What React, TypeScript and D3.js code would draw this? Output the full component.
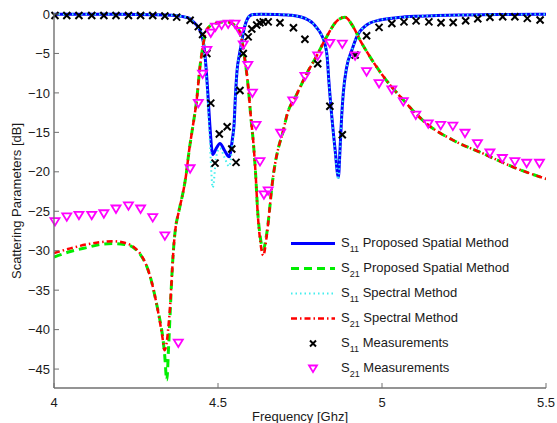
import React from "react";
import * as d3 from "d3";

// ---------- data ----------
const s11PropF = [4.0, 4.1, 4.2, 4.3, 4.36, 4.39, 4.41, 4.425, 4.44, 4.45, 4.457, 4.463, 4.469, 4.475, 4.484, 4.495, 4.506, 4.52, 4.534, 4.544, 4.549, 4.553, 4.558, 4.565, 4.572, 4.58, 4.59, 4.603, 4.63, 4.68, 4.72, 4.75, 4.775, 4.79, 4.80, 4.815, 4.826, 4.833, 4.838, 4.847, 4.857, 4.867, 4.872, 4.877, 4.882, 4.892, 4.908, 4.923, 4.953, 4.994, 5.05, 5.1, 5.167, 5.25, 5.35, 5.5];
const s11PropDb = [-0.02, -0.03, -0.04, -0.08, -0.15, -0.3, -0.5, -1.0, -1.7, -2.6, -4.0, -6.5, -10, -14, -17.8, -17.0, -16.4, -17.3, -18.1, -15.8, -14, -10.5, -7.2, -5.2, -3.6, -1.8, -0.6, -0.1, -0.02, -0.05, -0.15, -0.35, -0.75, -1.2, -1.7, -2.6, -3.8, -5.5, -8.5, -13, -17.2, -20.7, -17.2, -13, -10, -6.8, -4.6, -2.9, -1.4, -0.76, -0.45, -0.3, -0.2, -0.12, -0.07, -0.04];
const s11SpecDb = [-0.02, -0.03, -0.04, -0.08, -0.15, -0.3, -0.5, -1.0, -1.7, -2.6, -4.0, -6.8, -11, -16, -22.0, -18.0, -17.0, -18.2, -19.3, -16.5, -14, -10.5, -7.2, -5.2, -3.6, -1.8, -0.6, -0.1, -0.02, -0.05, -0.15, -0.35, -0.75, -1.2, -1.7, -2.6, -3.8, -5.5, -8.5, -13, -17.5, -21.0, -17.4, -13, -10, -6.8, -4.6, -2.9, -1.4, -0.76, -0.45, -0.3, -0.2, -0.12, -0.07, -0.04];

const s21PropF = [4.0, 4.05, 4.1, 4.143, 4.18, 4.215, 4.242, 4.265, 4.283, 4.298, 4.311, 4.322, 4.33, 4.337, 4.344, 4.349, 4.354, 4.359, 4.364, 4.371, 4.378, 4.386, 4.394, 4.402, 4.412, 4.423, 4.435, 4.445, 4.452, 4.462, 4.476, 4.5, 4.527, 4.55, 4.567, 4.582, 4.592, 4.6, 4.608, 4.615, 4.621, 4.628, 4.638, 4.648, 4.656, 4.664, 4.674, 4.684, 4.699, 4.709, 4.74, 4.77, 4.801, 4.831, 4.862, 4.887, 4.912, 4.933, 4.963, 5.004, 5.065, 5.136, 5.217, 5.309, 5.4, 5.5];
const s21PropDb = [-30.8, -30.1, -29.6, -29.2, -29.1, -29.2, -29.6, -30.6, -32.0, -34.0, -36.4, -38.6, -40.5, -43.0, -46.4, -42.5, -38.0, -33.5, -30.0, -27.0, -25.5, -24.0, -22.5, -20.6, -17.3, -14.3, -10.9, -6.7, -4.6, -2.4, -1.5, -1.1, -1.0, -1.4, -2.4, -5.8, -9.2, -13, -16.4, -20.5, -25, -28, -29.8, -28, -25.3, -22, -19, -17, -14.8, -13, -10.2, -7.6, -5.3, -2.9, -0.9, -0.4, -1.6, -3.3, -5.4, -7.9, -10.9, -13.9, -16.0, -17.7, -19.4, -20.9];
const s21SpecDb = [-30.3, -29.7, -29.2, -28.9, -28.8, -29.0, -29.5, -30.5, -32.0, -34.0, -36.4, -38.8, -40.8, -42.6, -41.5, -39.5, -37.0, -33.5, -30.0, -27.0, -25.5, -24.0, -22.5, -20.6, -17.3, -14.3, -10.9, -6.7, -4.6, -2.4, -1.5, -1.1, -1.0, -1.4, -2.4, -5.8, -9.2, -13, -16.4, -20.5, -25.2, -28.5, -30.6, -28.3, -25.3, -22, -19, -17, -14.8, -13, -10.2, -7.6, -5.3, -2.9, -0.9, -0.4, -1.6, -3.3, -5.4, -7.9, -10.9, -13.9, -16.0, -17.7, -19.4, -20.9];

const s11MeasF = [4.003, 4.039, 4.076, 4.115, 4.152, 4.189, 4.227, 4.264, 4.301, 4.338, 4.374, 4.415, 4.44, 4.453, 4.466, 4.478, 4.491, 4.504, 4.528, 4.542, 4.555, 4.567, 4.577, 4.592, 4.603, 4.618, 4.628, 4.638, 4.653, 4.689, 4.73, 4.765, 4.804, 4.841, 4.879, 4.918, 4.953, 4.991, 5.03, 5.067, 5.104, 5.143, 5.18, 5.217, 5.255, 5.292, 5.329, 5.368, 5.405, 5.443, 5.482];
const s11MeasDb = [-0.2, -0.2, -0.2, -0.2, -0.2, -0.2, -0.2, -0.2, -0.2, -0.25, -0.4, -0.8, -1.6, -2.6, -5.0, -11.3, -18.9, -15.2, -14.3, -17.1, -18.8, -9.7, -5.0, -2.9, -1.9, -1.4, -1.1, -1.0, -1.0, -1.1, -1.75, -3.2, -6.3, -11.7, -15.3, -5.2, -2.75, -1.7, -1.2, -1.0, -0.87, -1.0, -1.1, -1.08, -0.85, -0.6, -0.42, -0.34, -0.34, -0.55, -0.76];

const s21MeasF = [4.003, 4.039, 4.076, 4.115, 4.152, 4.189, 4.227, 4.264, 4.301, 4.338, 4.379, 4.415, 4.44, 4.453, 4.466, 4.478, 4.492, 4.511, 4.531, 4.552, 4.567, 4.577, 4.591, 4.605, 4.616, 4.628, 4.64, 4.653, 4.691, 4.728, 4.765, 4.804, 4.841, 4.879, 4.918, 4.953, 4.991, 5.03, 5.065, 5.103, 5.141, 5.179, 5.216, 5.253, 5.291, 5.329, 5.367, 5.405, 5.441, 5.48];
const s21MeasDb = [-26.3, -25.7, -25.5, -25.5, -25.3, -24.7, -24.3, -24.7, -25.8, -28.1, -41.7, -19.6, -11.3, -7.6, -4.6, -2.4, -1.65, -1.4, -1.27, -1.27, -2.2, -3.9, -6.5, -10, -14.1, -18.7, -22.9, -22.4, -15.1, -11, -7.9, -5.3, -3.7, -3.8, -5.3, -7.3, -8.8, -9.6, -11.1, -12.8, -13.9, -14.1, -14.2, -15.1, -16.4, -17.6, -18.3, -18.7, -18.9, -18.9];

const xTicks = [4, 4.5, 5, 5.5];
const xTickLabels = ["4", "4.5", "5", "5.5"];
const yTicks = [0, -5, -10, -15, -20, -25, -30, -35, -40, -45];

const legendSub = ["11", "21", "11", "21", "11", "21"];
const legendText = ["Proposed Spatial Method", "Proposed Spatial Method", "Spectral Method", "Spectral Method", "Measurements", "Measurements"];

// ---------- layout ----------
const W = 557, H = 423;
const L = 54, R = 546, T = 14, B = 388;
const FONT = "'Liberation Sans', Arial, Helvetica, sans-serif";

const x = d3.scaleLinear().domain([4, 5.5]).range([L, R]);
const y = d3.scaleLinear().domain([-47.4, 0]).range([B, T]);

const zipPts = (f: number[], v: number[]) => f.map((d, i) => [d, v[i]] as [number, number]);
const line = d3.line<[number, number]>().x(d => x(d[0])).y(d => y(d[1])).curve(d3.curveMonotoneX);

const styles = [
  { stroke: "#0000ff", width: 3, dash: "" },
  { stroke: "#00ee00", width: 3, dash: "8,5" },
  { stroke: "#44eeee", width: 2, dash: "1.5,3" },
  { stroke: "#ff0000", width: 2.5, dash: "6,3,1.5,3" },
];

const XMark = ({ cx, cy, s = 3.5 }: { cx: number; cy: number; s?: number }) => (
  <path d={`M${cx - s},${cy - s}L${cx + s},${cy + s}M${cx - s},${cy + s}L${cx + s},${cy - s}`} stroke="#000" strokeWidth={2} fill="none" />
);
const TriMark = ({ cx, cy, s = 4.5 }: { cx: number; cy: number; s?: number }) => (
  <path d={`M${cx - s},${cy - s * 0.75}L${cx + s},${cy - s * 0.75}L${cx},${cy + s * 0.9}Z`} stroke="#ff00ff" strokeWidth={1.8} fill="none" />
);

export default function App() {
  const curves = [
    zipPts(s11PropF, s11PropDb),
    zipPts(s21PropF, s21PropDb),
    zipPts(s11PropF, s11SpecDb),
    zipPts(s21PropF, s21SpecDb),
  ];
  const legY = (i: number) => 243.5 + 25 * i;
  return (
    <svg width={W} height={H} style={{ position: "absolute", left: 0, top: 0, background: "#fff" }} fontFamily={FONT}>
      <defs>
        <clipPath id="plot"><rect x={L} y={T - 2} width={R - L} height={B - T + 2} /></clipPath>
      </defs>
      <rect x={0} y={0} width={W} height={H} fill="#fff" />
      <g clipPath="url(#plot)">
        {curves.map((c, i) => (
          <path key={i} d={line(c) || ""} fill="none" stroke={styles[i].stroke} strokeWidth={styles[i].width}
            strokeDasharray={styles[i].dash || undefined} strokeLinejoin="round" />
        ))}
      </g>
      {s11MeasF.map((f, i) => <XMark key={"x" + i} cx={x(f)} cy={y(s11MeasDb[i])} />)}
      {s21MeasF.map((f, i) => <TriMark key={"t" + i} cx={x(f)} cy={y(s21MeasDb[i])} />)}

      {/* axes */}
      <line x1={L} x2={L} y1={T - 1} y2={B} stroke="#707070" strokeWidth={1.4} />
      <line x1={L} x2={R} y1={B} y2={B} stroke="#707070" strokeWidth={1.4} />
      {yTicks.map(t => (
        <g key={"yt" + t}>
          <line x1={L} x2={L + 5} y1={y(t)} y2={y(t)} stroke="#707070" strokeWidth={1} />
          <text x={L - 4} y={y(t)} dy="0.36em" textAnchor="end" fontSize={13} fill="#1a1a1a">{t === 0 ? "0" : "\u2212" + Math.abs(t)}</text>
        </g>
      ))}
      {xTicks.map((t, i) => (
        <g key={"xt" + t}>
          <line x1={x(t)} x2={x(t)} y1={B} y2={B - 5} stroke="#707070" strokeWidth={1} />
          <text x={x(t)} y={407} textAnchor="middle" fontSize={13} fill="#1a1a1a">{xTickLabels[i]}</text>
        </g>
      ))}
      <text x={(L + R) / 2} y={421} textAnchor="middle" fontSize={13} fill="#1a1a1a">Frequency [Ghz]</text>
      <text transform={`translate(21,${(T + B) / 2}) rotate(-90)`} textAnchor="middle" fontSize={13} fill="#1a1a1a">Scattering Parameters [dB]</text>

      {/* legend */}
      {legendText.map((txt, i) => {
        const ly = legY(i);
        return (
          <g key={"lg" + i}>
            {i < 4 ? (
              <line x1={291} x2={335} y1={ly} y2={ly} stroke={styles[i].stroke} strokeWidth={styles[i].width}
                strokeDasharray={styles[i].dash || undefined} />
            ) : i === 4 ? <XMark cx={313} cy={ly} s={3} /> : <TriMark cx={313} cy={ly} s={4} />}
            <text x={341} y={ly + 3} fontSize={13} fill="#1a1a1a">
              S<tspan fontSize={9} dy={5}>{legendSub[i]}</tspan><tspan dy={-5}>{" " + txt}</tspan>
            </text>
          </g>
        );
      })}
    </svg>
  );
}
